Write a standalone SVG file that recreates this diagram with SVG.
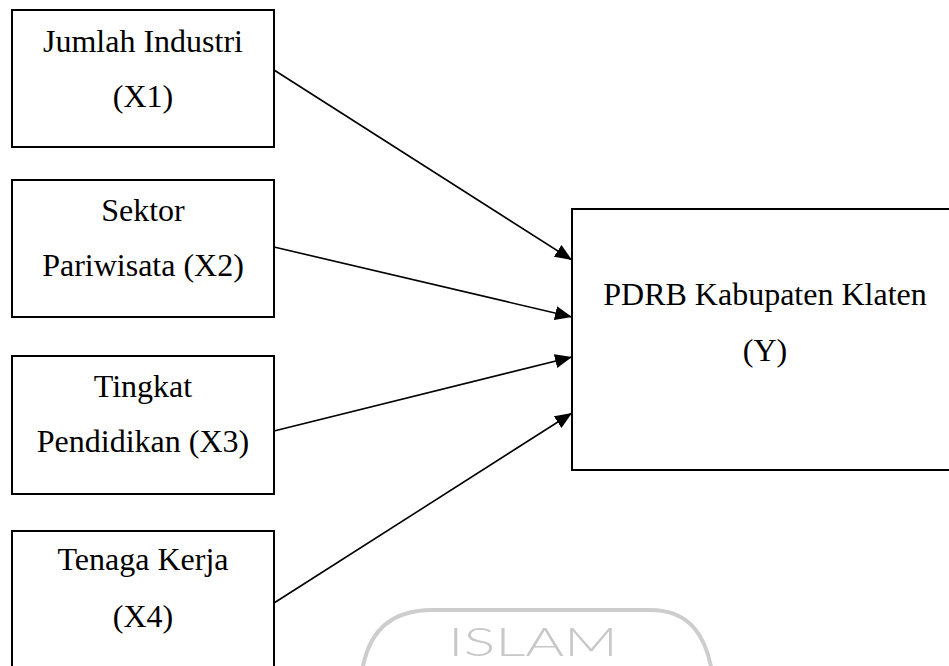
<svg xmlns="http://www.w3.org/2000/svg" width="949" height="666" viewBox="0 0 949 666">
<style>
.box{fill:#fff;stroke:#000;stroke-width:2}
.t{font-family:"Liberation Serif","Times New Roman",serif;font-size:32px;fill:#000;text-anchor:middle}
.c{stroke:#000;stroke-width:1.6;fill:none;marker-end:url(#ah)}
.wm{fill:none;stroke:#cdcdcd;stroke-width:4}
.wt{font-family:Lato,"Liberation Sans",sans-serif;font-weight:300;font-size:40px;fill:#c8c8c8}
</style>
<defs>
<marker id="ah" markerUnits="userSpaceOnUse" markerWidth="18" markerHeight="14" refX="17" refY="7" orient="auto">
<path d="M0,0 L17,7 L0,14 Z" fill="#000"/>
</marker>
</defs>
<rect width="949" height="666" fill="#fff"/>
<g id="watermark">
<path class="wm" d="M362,672 C368,632 390,610 432,610 L650,610 C690,610 706,636 712,672"/>
<text class="wt" x="448" y="656" textLength="170" lengthAdjust="spacingAndGlyphs">ISLAM</text>
</g>
<g id="connectors">
<line class="c" x1="274" y1="70" x2="572" y2="260"/>
<line class="c" x1="274" y1="247" x2="572" y2="317"/>
<line class="c" x1="274" y1="431" x2="572" y2="357"/>
<line class="c" x1="274" y1="603" x2="572" y2="413"/>
</g>
<g id="x1">
<rect class="box" x="12" y="10" width="262" height="137"/>
<text class="t" x="143" y="52">Jumlah Industri</text>
<text class="t" x="143" y="107">(X1)</text>
</g>
<g id="x2">
<rect class="box" x="12" y="180" width="262" height="137"/>
<text class="t" x="143" y="221">Sektor</text>
<text class="t" x="143" y="276">Pariwisata (X2)</text>
</g>
<g id="x3">
<rect class="box" x="12" y="356" width="262" height="138"/>
<text class="t" x="143" y="397">Tingkat</text>
<text class="t" x="143" y="452">Pendidikan (X3)</text>
</g>
<g id="x4">
<rect class="box" x="12" y="531" width="262" height="142"/>
<text class="t" x="143" y="570">Tenaga Kerja</text>
<text class="t" x="143" y="627">(X4)</text>
</g>
<g id="y">
<rect class="box" x="572" y="209" width="400" height="261"/>
<text class="t" x="765" y="305">PDRB Kabupaten Klaten</text>
<text class="t" x="765" y="361">(Y)</text>
</g>
</svg>
